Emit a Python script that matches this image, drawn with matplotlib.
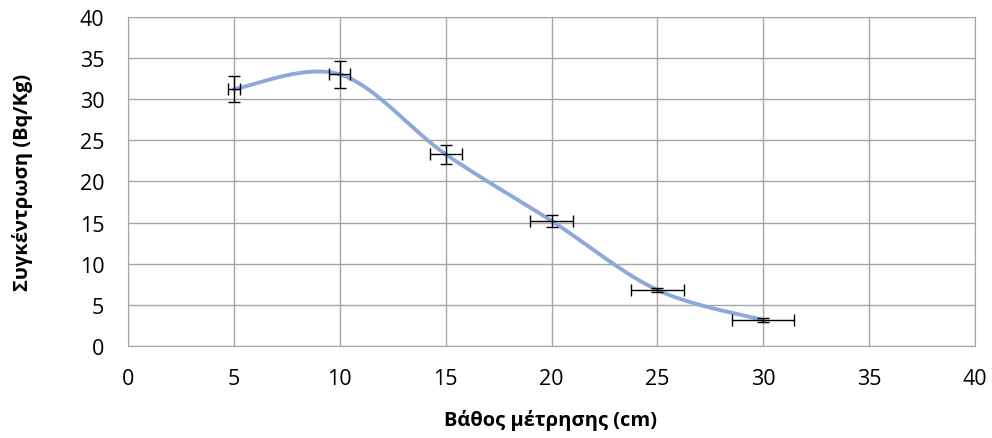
import numpy as np
import matplotlib.pyplot as plt

# Datos
depth = np.array([5, 10, 15, 20, 25, 30])
conc = np.array([31.2, 33.0, 23.3, 15.2, 6.8, 3.15])
conc_err = np.array([1.55, 1.65, 1.15, 0.75, 0.25, 0.2])
depth_err = np.array([0.3, 0.5, 0.75, 1.0, 1.25, 1.47])


def smooth_line(x, y, n=60):
    """Curva suavizada tipo Excel (Catmull-Rom con segmentos Bezier)."""
    px = np.concatenate([[x[0]], x, [x[-1]]])
    py = np.concatenate([[y[0]], y, [y[-1]]])
    xs, ys = [], []
    t = np.linspace(0, 1, n)
    for i in range(1, len(px) - 2):
        p0 = np.array([px[i], py[i]])
        p3 = np.array([px[i + 1], py[i + 1]])
        p1 = p0 + (np.array([px[i + 1], py[i + 1]]) - np.array([px[i - 1], py[i - 1]])) / 6
        p2 = p3 - (np.array([px[i + 2], py[i + 2]]) - np.array([px[i], py[i]])) / 6
        b = ((1 - t) ** 3)[:, None] * p0 + (3 * (1 - t) ** 2 * t)[:, None] * p1 \
            + (3 * (1 - t) * t ** 2)[:, None] * p2 + (t ** 3)[:, None] * p3
        xs.extend(b[:, 0])
        ys.extend(b[:, 1])
    return np.array(xs), np.array(ys)


plt.rcParams['font.family'] = ['Open Sans', 'DejaVu Sans']

fig = plt.figure(figsize=(9.92, 4.39), dpi=100)
ax = fig.add_axes([0.129, 0.2096, 0.854, 0.750])

sx, sy = smooth_line(depth, conc)
ax.plot(sx, sy, color="#8FA8DA", lw=2.8, zorder=3, solid_capstyle="round")
ax.errorbar(depth, conc, yerr=conc_err, xerr=depth_err, fmt="none",
            ecolor="black", elinewidth=1, capsize=4, capthick=1, zorder=4)

ax.set_xlim(0, 40)
ax.set_ylim(0, 40)
ax.set_xticks(np.arange(0, 41, 5))
ax.set_yticks(np.arange(0, 41, 5))
ax.grid(True, color="#A6A6A6", lw=1)
ax.set_axisbelow(True)
for s in ax.spines.values():
    s.set_color("#A6A6A6")
ax.tick_params(length=0, labelsize=15.5, colors="black")
ax.tick_params(axis="y", pad=17)
ax.tick_params(axis="x", pad=16)

fig.text(551 / 992, 1 - 421 / 439, "Βάθος μέτρησης (cm)", fontsize=14.5,
         fontweight="bold", ha="center", va="center")
fig.text(23 / 992, 1 - 182 / 439, "Συγκέντρωση (Bq/Kg)", fontsize=14.5,
         fontweight="bold", ha="center", va="center", rotation=90)

plt.savefig("out.png", dpi=100)
